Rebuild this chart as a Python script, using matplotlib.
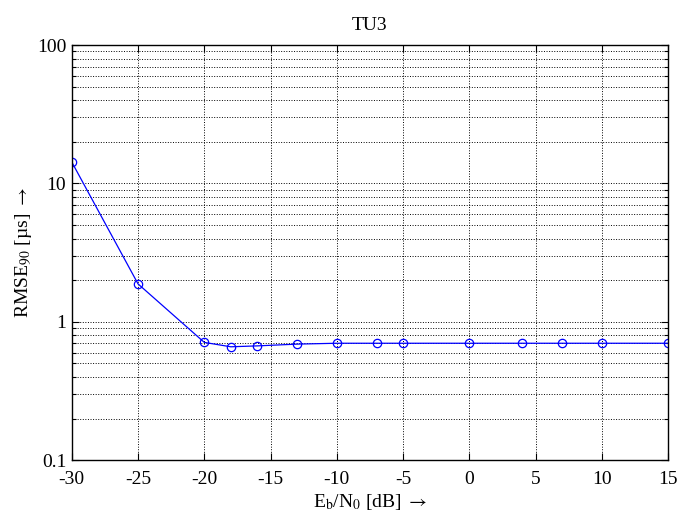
import numpy as np
import matplotlib
matplotlib.use('Agg')
import matplotlib.pyplot as plt
from matplotlib.ticker import LogLocator, NullFormatter

plt.rcParams['font.family'] = ['Liberation Serif', 'DejaVu Serif']
plt.rcParams['mathtext.fontset'] = 'stix'

# data
ebn0 = [-30, -25, -20, -18, -16, -13, -10, -7, -5, 0, 4, 7, 10, 15]
rmse90 = [14.3, 1.88, 0.71, 0.66, 0.67, 0.69, 0.70, 0.70, 0.70, 0.70, 0.70, 0.70, 0.70, 0.70]
xticks = [-30, -25, -20, -15, -10, -5, 0, 5, 10, 15]
yticks = [0.1, 1, 10, 100]
yticklabels = ['0.1', '1', '10', '100']

fig = plt.figure(figsize=(6.77, 5.13), dpi=100)
ax = fig.add_axes([0.106, 0.103, 0.881, 0.809])

ax.semilogy(ebn0, rmse90, '-o', color='#0000ff', lw=0.9, ms=6,
            mfc='none', mec='#0000ff', mew=0.9)

ax.set_xlim(-30, 15)
ax.set_ylim(0.1, 100)
ax.set_xticks(xticks)
ax.set_xticklabels([str(t) for t in xticks])
ax.set_yticks(yticks)
ax.set_yticklabels(yticklabels)
ax.yaxis.set_minor_locator(LogLocator(base=10, subs=np.arange(2, 10)))
ax.yaxis.set_minor_formatter(NullFormatter())

ax.grid(True, which='major', ls=':', color='k', lw=0.7)
ax.grid(True, which='minor', axis='y', ls=':', color='k', lw=0.7)

ax.tick_params(which='both', direction='in', top=True, right=True, labelsize=14)
ax.tick_params(which='major', length=5, width=0.8)
ax.tick_params(which='minor', length=3, width=0.8)
ax.tick_params(axis='x', pad=8)
ax.tick_params(axis='y', pad=4)
for s in ax.spines.values():
    s.set_linewidth(1.0)

ax.set_title('TU3', fontsize=14, pad=11)
ax.set_xlabel(r'E$_{\mathrm{b}}$/N$_{\mathrm{0}}$ [dB] $\rightarrow$', fontsize=14, labelpad=3)
ax.set_ylabel(r'RMSE$_{\mathrm{90}}$ [µs] $\rightarrow$', fontsize=14, labelpad=2)

fig.savefig('out.png', dpi=100)
